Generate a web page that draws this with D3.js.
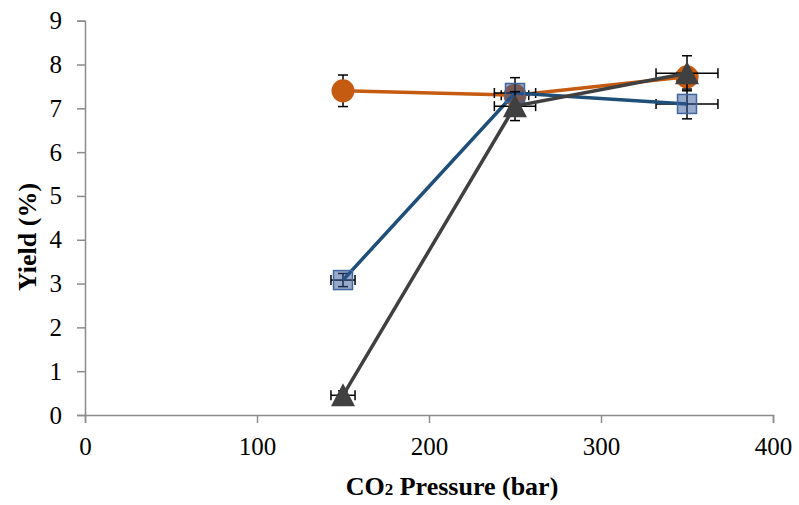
<!DOCTYPE html>
<html>
<head>
<meta charset="utf-8">
<script src="https://cdn.jsdelivr.net/npm/d3@7"></script>
<style>
  body { margin: 0; background: #fff; }
  svg { display: block; }
</style>
</head>
<body>
<div id="chart"></div>
<script>
// CO2 pressure (bar) for every series
const pressures = [150, 250, 350];

// Yield (%) per series, with y (yield) and x (pressure) error half-widths
const yieldOrange = [7.4, 7.3, 7.72];
const errYOrange = [0.36, 0.2, 0.2];
const errXOrange = [4, 8, 6];

const yieldBlue = [3.08, 7.35, 7.1];
const errYBlue = [0.15, 0.35, 0.34];
const errXBlue = [7, 12, 18];

const yieldGray = [0.45, 7.05, 7.8];
const errYGray = [0.1, 0.33, 0.4];
const errXGray = [7, 12, 18];

const xTicks = [0, 100, 200, 300, 400];
const yTicks = [0, 1, 2, 3, 4, 5, 6, 7, 8, 9];

const width = 799, height = 505;

const svg = d3.select("#chart").append("svg")
    .attr("width", width)
    .attr("height", height);

const x = d3.scaleLinear().domain([0, 400]).range([85, 773]);
const y = d3.scaleLinear().domain([0, 9]).range([415, 20.7]);

const font = "'Liberation Serif', 'Times New Roman', serif";
const axisColor = "#8c8c8c";

// Axes
const xAxis = svg.append("g")
    .attr("transform", `translate(0,${y(0)})`)
    .call(d3.axisBottom(x).tickValues(xTicks).tickSize(8).tickPadding(14));
const yAxis = svg.append("g")
    .attr("transform", `translate(${x(0)},0)`)
    .call(d3.axisLeft(y).tickValues(yTicks).tickSize(8).tickPadding(15));

[xAxis, yAxis].forEach(g => {
    g.select(".domain").attr("stroke", axisColor).attr("stroke-width", 1.5);
    g.selectAll(".tick line").attr("stroke", axisColor).attr("stroke-width", 1.5);
    g.selectAll(".tick text")
        .attr("fill", "#000")
        .style("font-family", font)
        .style("font-size", "25px");
});

// Series
const series = [
    { values: yieldOrange, ey: errYOrange, ex: errXOrange, color: "#c55a11", marker: "circle" },
    { values: yieldBlue, ey: errYBlue, ex: errXBlue, color: "#1f4e79", marker: "square" },
    { values: yieldGray, ey: errYGray, ex: errXGray, color: "#404040", marker: "triangle" }
];

const line = d3.line()
    .x(d => x(d.p))
    .y(d => y(d.v));

const cap = 5;

series.forEach(s => {
    const pts = pressures.map((p, i) => ({ p, v: s.values[i], ey: s.ey[i], ex: s.ex[i] }));
    const g = svg.append("g");

    // error bars
    const eb = g.append("g").attr("stroke", "#000").attr("stroke-width", 1.5);
    pts.forEach(d => {
        const cx = x(d.p), cy = y(d.v);
        const y1 = y(d.v + d.ey), y2 = y(d.v - d.ey);
        const x1 = x(d.p - d.ex), x2 = x(d.p + d.ex);
        eb.append("line").attr("x1", cx).attr("x2", cx).attr("y1", y1).attr("y2", y2);
        eb.append("line").attr("x1", cx - cap).attr("x2", cx + cap).attr("y1", y1).attr("y2", y1);
        eb.append("line").attr("x1", cx - cap).attr("x2", cx + cap).attr("y1", y2).attr("y2", y2);
        eb.append("line").attr("x1", x1).attr("x2", x2).attr("y1", cy).attr("y2", cy);
        eb.append("line").attr("x1", x1).attr("x2", x1).attr("y1", cy - cap).attr("y2", cy + cap);
        eb.append("line").attr("x1", x2).attr("x2", x2).attr("y1", cy - cap).attr("y2", cy + cap);
    });

    g.append("path")
        .datum(pts)
        .attr("d", line)
        .attr("fill", "none")
        .attr("stroke", s.color)
        .attr("stroke-width", 3.5);

    const m = g.selectAll(".m").data(pts).join("g")
        .attr("transform", d => `translate(${x(d.p)},${y(d.v)})`);
    if (s.marker === "circle") {
        m.append("circle").attr("r", 11.5).attr("fill", s.color);
    } else if (s.marker === "square") {
        m.append("rect")
            .attr("x", -9.5).attr("y", -9.5).attr("width", 19).attr("height", 19)
            .attr("fill", "#2f5597").attr("fill-opacity", 0.5)
            .attr("stroke", "#41679f").attr("stroke-width", 1.5);
    } else {
        m.append("path")
            .attr("d", "M0,-12 L12,11 L-12,11 Z")
            .attr("fill", s.color);
    }
});

// Axis titles
const xTitle = svg.append("text")
    .attr("x", 452).attr("y", 495)
    .attr("text-anchor", "middle")
    .style("font-family", font)
    .style("font-size", "26px")
    .style("font-weight", "bold");
xTitle.append("tspan").text("CO");
xTitle.append("tspan").style("font-size", "17px").text("2");
xTitle.append("tspan").text(" Pressure (bar)");

svg.append("text")
    .attr("transform", `translate(36,237) rotate(-90)`)
    .attr("text-anchor", "middle")
    .style("font-family", font)
    .style("font-size", "26px")
    .style("font-weight", "bold")
    .text("Yield (%)");
</script>
</body>
</html>
